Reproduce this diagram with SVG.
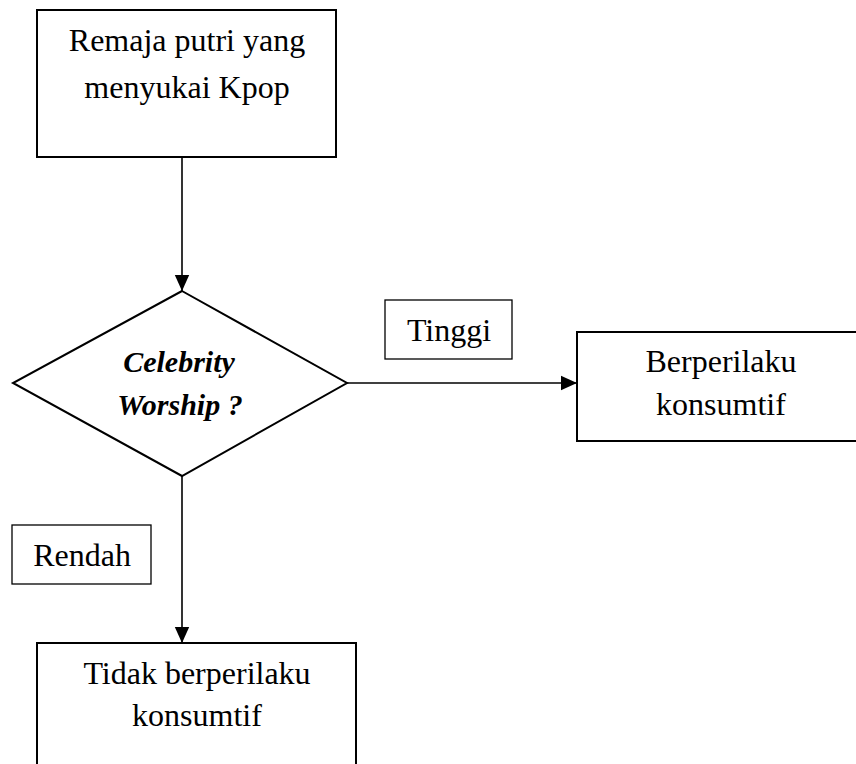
<svg xmlns="http://www.w3.org/2000/svg" width="856" height="764" viewBox="0 0 856 764">
<style>
.box{fill:#fff;stroke:#000;stroke-width:2}
.lbl{fill:#fff;stroke:#000;stroke-width:1.3}
.t{font-family:"Liberation Serif","Times New Roman",serif;font-size:32px;fill:#000;text-anchor:middle}
.bi{font-weight:bold;font-style:italic;font-size:30px}
.c{stroke:#000;stroke-width:1.6;fill:none}
</style>
<defs>
<marker id="ah" viewBox="0 0 10 10" refX="10" refY="5" markerWidth="16" markerHeight="16" markerUnits="userSpaceOnUse" orient="auto">
<path d="M0,0.5 L10,5 L0,9.5 z" fill="#000"/>
</marker>
</defs>
<rect width="856" height="764" fill="#fff"/>
<g id="connectors">
<line class="c" x1="182" y1="157" x2="182" y2="291" marker-end="url(#ah)"/>
<line class="c" x1="347" y1="383" x2="577" y2="383" marker-end="url(#ah)"/>
<line class="c" x1="182" y1="476" x2="182" y2="643" marker-end="url(#ah)"/>
</g>
<g id="start">
<rect class="box" x="37" y="10" width="299" height="147"/>
<text class="t" x="187" y="51">Remaja putri yang</text>
<text class="t" x="187" y="98">menyukai Kpop</text>
</g>
<g id="decision">
<polygon class="box" points="182,291 347,383 182,476 13,383"/>
<text class="t bi" x="179" y="372">Celebrity</text>
<text class="t bi" x="180" y="415">Worship ?</text>
</g>
<g id="label-tinggi">
<rect class="lbl" x="385" y="300" width="127" height="59"/>
<text class="t" x="449" y="341">Tinggi</text>
</g>
<g id="high">
<rect class="box" x="577" y="332" width="290" height="109"/>
<text class="t" x="721" y="372">Berperilaku</text>
<text class="t" x="721" y="415">konsumtif</text>
</g>
<g id="label-rendah">
<rect class="lbl" x="12" y="525" width="139" height="59"/>
<text class="t" x="82" y="566">Rendah</text>
</g>
<g id="low">
<rect class="box" x="37" y="643" width="319" height="140"/>
<text class="t" x="197" y="684">Tidak berperilaku</text>
<text class="t" x="197" y="726">konsumtif</text>
</g>
</svg>
